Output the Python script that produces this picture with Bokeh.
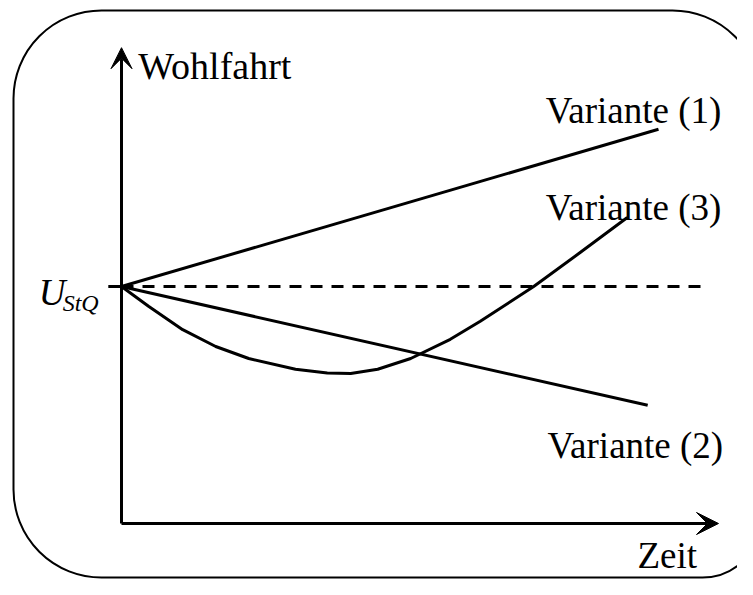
from bokeh.plotting import figure
from bokeh.models import Range1d, Arrow, VeeHead, BoxAnnotation
from bokeh.core.properties import value
from bokeh.embed import file_html
from bokeh.resources import INLINE

# ---- data (time units on x, welfare units on y) ----
u_stq = 3.95                      # status-quo welfare level
t_end_axis = 9.95                 # length of the time axis
w_end_axis = 7.93                 # length of the welfare axis

var1_t = [0.0, 8.95]
var1_w = [u_stq, 6.57]

var2_t = [0.0, 8.77]
var2_w = [u_stq, 1.97]

var3_t = [0.0, 0.45, 1.02, 1.57, 2.12, 2.90, 3.43, 3.82, 4.27, 4.82, 5.48, 5.98, 6.87, 7.65, 8.43]
var3_w = [u_stq, 3.62, 3.23, 2.95, 2.75, 2.57, 2.51, 2.50, 2.57, 2.75, 3.07, 3.37, 3.95, 4.52, 5.10]

status_quo_t = [0.0, 9.77]
labels = ["Variante (1)", "Variante (3)", "Variante (2)"]
label_t = [7.07, 7.07, 7.10]
label_w = [6.88, 5.27, 1.30]

SERIF = "Liberation Serif"

p = figure(width=737, height=579, output_backend="svg", toolbar_location=None,
           x_range=Range1d(-121 / 60, 616 / 60), y_range=Range1d(-56 / 60, 523 / 60),
           min_border=0, min_border_left=0, min_border_right=0,
           min_border_top=0, min_border_bottom=0)
p.axis.visible = False
p.grid.visible = False
p.outline_line_color = None
p.background_fill_color = "white"
p.border_fill_color = "white"

# rounded frame
frame = BoxAnnotation(left=-1.8, right=10.65, top=8.55, bottom=-0.9,
                      border_radius=(88, 88, 58, 88), fill_alpha=0, line_color="black",
                      line_alpha=1.0, line_width=2)
p.add_layout(frame)

# axes with arrow heads
p.add_layout(Arrow(end=VeeHead(size=22, fill_color="black", line_color="black", line_width=1),
                   x_start=0, y_start=0, x_end=t_end_axis, y_end=0,
                   line_width=3, line_color="black"))
p.add_layout(Arrow(end=VeeHead(size=21, fill_color="black", line_color="black", line_width=1),
                   x_start=0, y_start=0, x_end=0, y_end=w_end_axis,
                   line_width=3, line_color="black"))

# tick at U_StQ
p.line([-0.22, 0.0], [u_stq, u_stq], line_width=3, line_color="black")

# status quo dashed line
p.line(status_quo_t, [u_stq, u_stq], line_width=3, line_color="black", line_dash="12 9")

# variants
p.line(var1_t, var1_w, line_width=3, line_color="black")
p.line(var2_t, var2_w, line_width=3, line_color="black")
p.line(var3_t, var3_w, line_width=3, line_color="black", line_join="round")

# texts
p.text(x=label_t, y=label_w, text=labels, text_font=value(SERIF), text_font_size="37px",
       text_color="black", text_baseline="alphabetic", text_align="left")
p.text(x=[0.28], y=[7.63], text=["Wohlfahrt"], text_font=value(SERIF), text_font_size="38px",
       text_color="black", text_baseline="alphabetic", text_align="left")
p.text(x=[8.60], y=[-0.54], text=["Zeit"], text_font=value(SERIF), text_font_size="37px",
       text_color="black", text_baseline="alphabetic", text_align="left")
p.text(x=[-1.38], y=[3.85], text=["U"], text_font=value(SERIF), text_font_size="37px",
       text_font_style="italic", text_color="black", text_baseline="alphabetic", text_align="left")
p.text(x=[-0.98], y=[3.68], text=["StQ"], text_font=value(SERIF), text_font_size="24px",
       text_font_style="italic", text_color="black", text_baseline="alphabetic", text_align="left")

open("out.html", "w").write(file_html(p, INLINE))
